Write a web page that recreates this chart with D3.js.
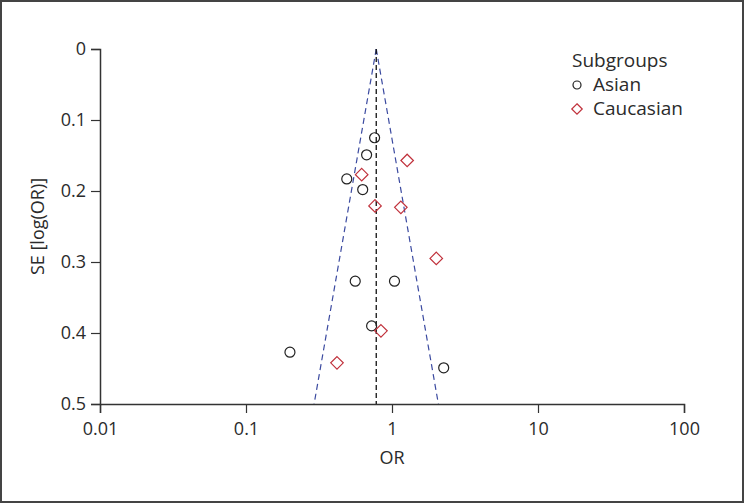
<!DOCTYPE html>
<html>
<head>
<meta charset="utf-8">
<script src="https://cdn.jsdelivr.net/npm/d3@7"></script>
<style>
  body { margin: 0; background: #fff; }
  svg { display: block; }
  text { font-family: "Open Sans", "Noto Sans", sans-serif; fill: #2b2b2b; }
</style>
</head>
<body>
<div class="chart"></div>
<script>
// data
const asianOR = [0.76, 0.67, 0.49, 0.63, 0.56, 1.04, 0.725, 0.2, 2.26];
const asianSE = [0.125, 0.149, 0.183, 0.198, 0.327, 0.327, 0.39, 0.427, 0.449];
const caucOR = [1.27, 0.62, 0.765, 1.15, 2.01, 0.84, 0.42];
const caucSE = [0.157, 0.177, 0.221, 0.223, 0.295, 0.397, 0.442];
const pooledOR = 0.78;
const xTicks = [0.01, 0.1, 1, 10, 100];
const yTicks = [0, 0.1, 0.2, 0.3, 0.4, 0.5];

let width = 744, height = 503;
let margin = { top: 49, right: 60, bottom: 99, left: 100 };

let svg = d3.select('.chart')
  .append('svg')
    .attr('width', width)
    .attr('height', height);

// outer frame
svg.append('rect')
  .attr('x', 1).attr('y', 1)
  .attr('width', width - 2).attr('height', height - 2)
  .style('fill', 'none')
  .style('stroke', '#444')
  .style('stroke-width', 2);

let x = d3.scaleLog().domain([0.01, 100]).range([margin.left, width - margin.right]);
let y = d3.scaleLinear().domain([0, 0.5]).range([margin.top, height - margin.bottom]);

// funnel (pooled OR +/- 1.96 SE on the ln scale)
const z = 1.96;
let funnel = [
  [[pooledOR, 0], [pooledOR * Math.exp(-z * 0.5), 0.5]],
  [[pooledOR, 0], [pooledOR * Math.exp(z * 0.5), 0.5]]
];
funnel.forEach(f => {
  svg.append('line')
    .attr('x1', x(f[0][0])).attr('y1', y(f[0][1]))
    .attr('x2', x(f[1][0])).attr('y2', y(f[1][1]))
    .style('stroke', '#3b4aa0')
    .style('stroke-width', 1.2)
    .style('stroke-dasharray', '6,4');
});

svg.append('line')
  .attr('x1', x(pooledOR)).attr('y1', y(0))
  .attr('x2', x(pooledOR)).attr('y2', y(0.5))
  .style('stroke', '#111')
  .style('stroke-width', 1.3)
  .style('stroke-dasharray', '5,3');

// axes
let xAxis = svg.append('g')
  .attr('transform', `translate(0, ${y(0.5)})`)
  .call(d3.axisBottom(x).tickValues(xTicks).tickFormat(d3.format('')).tickSize(9).tickPadding(9));
let yAxis = svg.append('g')
  .attr('transform', `translate(${x(0.01)}, 0)`)
  .call(d3.axisLeft(y).tickValues(yTicks).tickFormat(d => d === 0 ? '0' : d3.format('.1f')(d)).tickSize(9).tickPadding(5));

[xAxis, yAxis].forEach(a => {
  a.select('.domain').style('stroke', '#333').style('stroke-width', 1.5);
  a.selectAll('.tick line').style('stroke', '#333').style('stroke-width', 1.2);
  a.selectAll('.tick text')
    .style('font-family', '"Open Sans", "Noto Sans", sans-serif')
    .style('font-size', '18px')
    .style('fill', '#2b2b2b');
});

svg.append('text')
  .attr('x', (x(0.01) + x(100)) / 2)
  .attr('y', 464)
  .attr('text-anchor', 'middle')
  .style('font-size', '18px')
  .text('OR');

svg.append('text')
  .attr('transform', `translate(44, ${(y(0) + y(0.5)) / 2}) rotate(-90)`)
  .attr('text-anchor', 'middle')
  .style('font-size', '18px')
  .text('SE [log(OR)]');

// points
svg.selectAll('circle.asian')
  .data(asianOR.map((d, i) => ({ or: d, se: asianSE[i] })))
  .enter()
  .append('circle')
    .attr('class', 'asian')
    .attr('cx', d => x(d.or))
    .attr('cy', d => y(d.se))
    .attr('r', 5)
    .style('fill', 'none')
    .style('stroke', '#222')
    .style('stroke-width', 1.2);

let diamond = d3.symbol().type(d3.symbolDiamond2).size(100);
svg.selectAll('path.cauc')
  .data(caucOR.map((d, i) => ({ or: d, se: caucSE[i] })))
  .enter()
  .append('path')
    .attr('class', 'cauc')
    .attr('d', diamond)
    .attr('transform', d => `translate(${x(d.or)}, ${y(d.se)})`)
    .style('fill', 'none')
    .style('stroke', '#c0313b')
    .style('stroke-width', 1.2);

// legend
let legend = svg.append('g').attr('transform', 'translate(572, 0)');
legend.append('text').attr('x', 0).attr('y', 67).style('font-size', '19px').text('Subgroups');
legend.append('circle')
  .attr('cx', 5).attr('cy', 85).attr('r', 4)
  .style('fill', 'none').style('stroke', '#222').style('stroke-width', 1.2);
legend.append('text').attr('x', 21).attr('y', 91).style('font-size', '19px').text('Asian');
legend.append('path')
  .attr('d', d3.symbol().type(d3.symbolDiamond2).size(70))
  .attr('transform', 'translate(5, 109)')
  .style('fill', 'none').style('stroke', '#c0313b').style('stroke-width', 1.2);
legend.append('text').attr('x', 21).attr('y', 115).style('font-size', '19px').text('Caucasian');
</script>
</body>
</html>
